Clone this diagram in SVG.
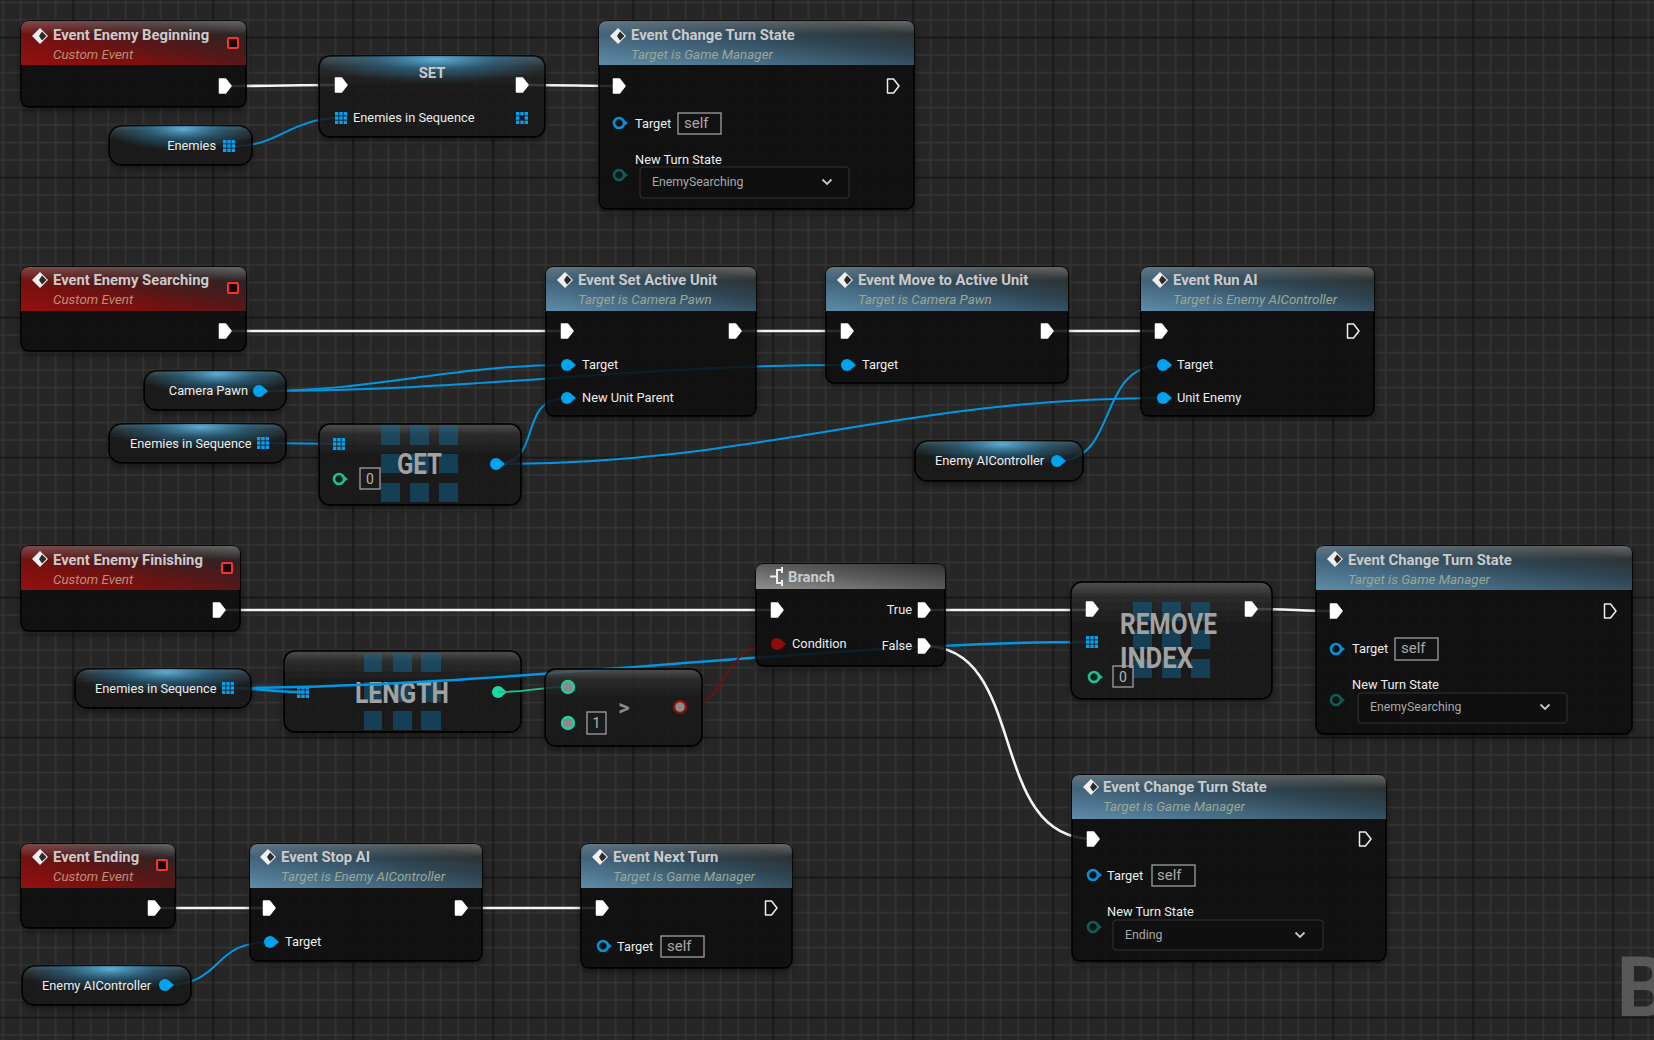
<svg xmlns="http://www.w3.org/2000/svg" width="1654" height="1040" viewBox="0 0 1654 1040">
<style>
text{font-family:Roboto,"Liberation Sans",sans-serif}
.t{font-weight:700;font-size:14.8px;fill:#cbcbcb}
.s{font-style:italic;font-size:13.4px}
.sr{fill:#b89078}.sb{fill:#98a898}
.l{font-size:12.8px;fill:#ececec}
.e{font-size:12.3px;fill:#a8a8a8}
.self{font-size:15px;fill:#a8a8a8}
.n{font-size:14px;fill:#b5b5b5;text-anchor:middle}
.big{font-weight:700;font-size:29px;fill:#a2a2a2}
.body{fill:#0b100d;fill-opacity:.8;stroke:#000;stroke-width:1.5;filter:url(#sh)}
.comp{fill:url(#cg);fill-opacity:.76;stroke:#000;stroke-width:1.5;filter:url(#sh)}
.glow{fill:url(#bg)}
.hr{fill:url(#hred)}.hb{fill:url(#hblue)}.hg{fill:url(#hgrey)}
.rim{fill:url(#rimg)}
.box{fill:none;stroke:#a0a0a0;stroke-width:1.3}
.drop{fill:#0f0f0f;stroke:#333;stroke-width:1}
.chev{fill:none;stroke:#c8c8c8;stroke-width:1.8}
.tile{fill:#0f6c9e;fill-opacity:.45}
.w{fill:none;stroke:#f4f4f4;stroke-width:2.6}
.b{fill:none;stroke:#0098e4;stroke-width:2}
</style>
<defs>
<pattern id="grid" patternUnits="userSpaceOnUse" x="64.45" y="28.75" width="140" height="140">
<rect width="140" height="140" fill="#262626"/>
<path d="M26.25 0V140M43.75 0V140M61.25 0V140M78.75 0V140M96.25 0V140M113.75 0V140M131.25 0V140M0 26.25H140M0 43.75H140M0 61.25H140M0 78.75H140M0 96.25H140M0 113.75H140M0 131.25H140" stroke="#353535" stroke-width="1.5" fill="none"/>
<path d="M8.75 0V140M0 8.75H140" stroke="#141414" stroke-width="1.5" fill="none"/>
</pattern>
<filter id="sh" x="-10%" y="-10%" width="120%" height="130%"><feDropShadow dx="0" dy="3" stdDeviation="3" flood-color="#000" flood-opacity=".5"/></filter>
<linearGradient id="hred" x1="0" y1="1" x2="1" y2="0"><stop offset="0" stop-color="#951010"/><stop offset=".3" stop-color="#7a1010"/><stop offset=".6" stop-color="#4c1a1a"/><stop offset=".82" stop-color="#2d2424"/><stop offset="1" stop-color="#3a3a3a"/></linearGradient>
<linearGradient id="hblue" x1="0" y1="1" x2="1" y2="0"><stop offset="0" stop-color="#5f8ca8"/><stop offset=".3" stop-color="#466a82"/><stop offset=".6" stop-color="#2f4654"/><stop offset=".85" stop-color="#2c3234"/><stop offset="1" stop-color="#3c3f40"/></linearGradient>
<linearGradient id="hgrey" x1="0" y1="1" x2="1" y2="0"><stop offset="0" stop-color="#909090"/><stop offset=".5" stop-color="#5c5c5c"/><stop offset="1" stop-color="#333"/></linearGradient>
<linearGradient id="rimg" x1="0" y1="0" x2="0" y2="1"><stop offset="0" stop-color="#fff" stop-opacity=".22"/><stop offset="1" stop-color="#fff" stop-opacity="0"/></linearGradient>
<linearGradient id="cg" x1="0" y1="0" x2="0" y2="1"><stop offset="0" stop-color="#5a5a5a"/><stop offset=".14" stop-color="#2c2c2c"/><stop offset=".35" stop-color="#1c1d1d"/><stop offset="1" stop-color="#181a1a"/></linearGradient>
<radialGradient id="bg" cx=".52" cy=".08" r=".55"><stop offset="0" stop-color="#62bbe6" stop-opacity=".9"/><stop offset=".5" stop-color="#2b7ba5" stop-opacity=".5"/><stop offset="1" stop-color="#2b7ba5" stop-opacity="0"/></radialGradient>
<g id="ex"><path d="M-5.500-7H0.500L6 0 .5 7H-5.500Z" fill="#fff" stroke="#fff" stroke-width="1.5" stroke-linejoin="round"/></g>
<g id="exo"><path d="M-5.500-7H0.500L6 0 .5 7H-5.500Z" fill="#111" stroke="#eee" stroke-width="1.5" stroke-linejoin="round"/></g>
<g id="ob"><circle r="6" fill="#00a3f0"/><path d="M5-3.500L9 0 5 3.500Z" fill="#00a3f0"/></g>
<g id="oh"><path d="M5-3L9 0 5 3Z" fill="#0a8fd4"/><circle r="5" fill="#0a1418" stroke="#0a8fd4" stroke-width="2.600"/></g>
<g id="th"><path d="M5-3L9 0 5 3Z" fill="#0d5c5a"/><circle r="5" fill="#0c1414" stroke="#0d5c5a" stroke-width="2.600"/></g>
<g id="gh"><path d="M5-3L9 0 5 3Z" fill="#1fbf90"/><circle r="5" fill="#14201c" stroke="#1fbf90" stroke-width="2.600"/></g>
<g id="gp"><circle r="6" fill="#8a8a8a" stroke="#1fd0a0" stroke-width="2.400"/></g>
<g id="rp"><circle r="6" fill="#8a8a8a" stroke="#8a0f0f" stroke-width="2.400"/></g>
<g id="rf"><circle r="6" fill="#8f0c0c"/><path d="M5-3.500L9 0 5 3.500Z" fill="#8f0c0c"/></g>
<g id="ar" fill="#0aa0f0"><rect x="-6" y="-6" width="3.400" height="3.400"/><rect x="-1.700" y="-6" width="3.400" height="3.400"/><rect x="2.600" y="-6" width="3.400" height="3.400"/><rect x="-6" y="-1.700" width="3.400" height="3.400"/><rect x="-1.700" y="-1.700" width="3.400" height="3.400"/><rect x="2.600" y="-1.700" width="3.400" height="3.400"/><rect x="-6" y="2.600" width="3.400" height="3.400"/><rect x="-1.700" y="2.600" width="3.400" height="3.400"/><rect x="2.600" y="2.600" width="3.400" height="3.400"/></g>
<g id="arh" fill="#0aa0f0"><rect x="-6" y="-6" width="3.400" height="3.400"/><rect x="-1.700" y="-6" width="3.400" height="3.400"/><rect x="2.600" y="-6" width="3.400" height="3.400"/><rect x="-6" y="-1.700" width="3.400" height="3.400"/><rect x="2.600" y="-1.700" width="3.400" height="3.400"/><rect x="-6" y="2.600" width="3.400" height="3.400"/><rect x="-1.700" y="2.600" width="3.400" height="3.400"/><rect x="2.600" y="2.600" width="3.400" height="3.400"/></g>
<g id="ev"><path d="M0-8L8 0 0 8-8 0Z" fill="#f0f0f0"/><path d="M2-4.500L6.500 0 2 4.500-1 0Z" fill="#2a2a2a"/></g>
<g id="sq"><rect x="-5" y="-5" width="10" height="10" fill="#180606" stroke="#ff3030" stroke-width="2" rx="1"/></g>
<g id="chv"><path d="M-4.500-2.500L0 2 4.500-2.500" class="chev"/></g>
</defs>

<rect id="background" width="1654" height="1040" fill="url(#grid)"/>

<g id="node-length" transform="translate(284,651)">
<rect class="comp" width="237" height="81" rx="11"/>
<path class="tile" d="M80 2h18v19h-18zM109 2h19v19h-19zM137 2h20v19h-20zM80 31h18v20h-18zM109 31h19v20h-19zM137 31h20v20h-20zM80 60h18v19h-18zM109 60h19v19h-19zM137 60h20v19h-20z"/>
<text class="big" x="71" y="52" textLength="94" lengthAdjust="spacingAndGlyphs">LENGTH</text>
<use href="#ar" x="19" y="41"/>
<circle cx="214" cy="41" r="6" fill="#1fd8a8"/><path d="M219 37.500L223 41 219 44.500Z" fill="#1fd8a8"/>
</g>

<g id="connectors">
<path class="w" d="M231 86C270 86 300 85 337 85"/>
<path class="w" d="M528 85C560 85 590 86 619 86"/>
<path class="b" d="M235 146C280 146 290 118 341 118"/>
<path class="w" d="M231 331H567"/>
<path class="w" d="M741 331H847"/>
<path class="w" d="M1053 331H1161"/>
<path class="b" d="M259 391C380 391 450 365 567 365"/>
<path class="b" d="M259 391C480 391 630 365 847 365"/>
<path class="b" d="M263 443C300 443 305 444 339 444"/>
<path class="b" d="M496 464C545 464 515 398 567 398"/>
<path class="b" d="M496 464C760 464 900 398 1163 398"/>
<path class="b" d="M1057 461C1120 461 1095 365 1163 365"/>
<path class="w" d="M225 610H777"/>
<path class="b" style="stroke-width:2.500" d="M228 688C260 688 270 692 303 692"/>
<path class="b" style="stroke-width:2.500" d="M228 688C500 688 820 642 1092 642"/>
<path d="M498 692C530 692 535 687 568 687" fill="none" stroke="#1fc090" stroke-width="1.800"/>
<path d="M680 707C735 707 715 644 777 644" fill="none" stroke="#7a0c0c" stroke-width="1.800"/>
<path class="w" d="M924 610H1092"/>
<path class="w" d="M1251 609C1290 609 1300 611 1336 611"/>
<path class="w" d="M924 646C1030 646 985 839 1093 839"/>
<path class="w" d="M154 908H269"/>
<path class="w" d="M461 908H602"/>
<path class="b" d="M165 985C225 985 210 942 270 942"/>
</g>

<g id="node-event-enemy-beginning" transform="translate(21,21)">
<rect class="body" width="225" height="86" rx="8"/>
<path class="hr" d="M0 44V8Q0 0 8 0H217Q225 0 225 8V44Z"/>
<rect class="rim" width="225" height="14" rx="8"/>
<use href="#ev" x="19" y="15"/>
<text class="t" x="32" y="19">Event Enemy Beginning</text>
<text class="s sr" x="32" y="38">Custom Event</text>
<use href="#sq" x="212" y="22"/>
<use href="#ex" x="204" y="65"/>
</g>

<g id="node-set" transform="translate(319,56)">
<rect class="comp" width="226" height="81" rx="11"/>
<rect class="glow" width="226" height="42" rx="11"/>
<text class="t" x="113" y="22" text-anchor="middle">SET</text>
<use href="#ex" x="22" y="29"/>
<use href="#ex" x="203" y="29"/>
<use href="#ar" x="22" y="62"/>
<text class="l" x="34" y="66">Enemies in Sequence</text>
<use href="#arh" x="203" y="62"/>
</g>

<g id="node-enemies" transform="translate(109,126)">
<rect class="comp" width="143" height="39" rx="13"/>
<rect class="glow" width="143" height="39" rx="13"/>
<text class="l" x="107" y="24" text-anchor="end">Enemies</text>
<use href="#ar" x="120" y="20"/>
</g>

<g id="node-change-turn-state-1" transform="translate(599,21)">
<rect class="body" width="315" height="188" rx="8"/>
<path class="hb" d="M0 44V8Q0 0 8 0H307Q315 0 315 8V44Z"/>
<rect class="rim" width="315" height="14" rx="8"/>
<use href="#ev" x="19" y="15"/>
<text class="t" x="32" y="19">Event Change Turn State</text>
<text class="s sb" x="32" y="38">Target is Game Manager</text>
<use href="#ex" x="20" y="65"/>
<use href="#exo" x="294" y="65"/>
<use href="#oh" x="20" y="102"/>
<text class="l" x="36" y="107">Target</text>
<rect class="box" x="79" y="92" width="43" height="21"/>
<text class="self" x="85" y="107">self</text>
<text class="l" x="36" y="143">New Turn State</text>
<use href="#th" x="20" y="154"/>
<rect class="drop" x="41" y="146" width="209" height="31" rx="3"/>
<text class="e" x="53" y="165">EnemySearching</text>
<use href="#chv" x="228" y="161"/>
</g>

<g id="node-event-enemy-searching" transform="translate(21,267)">
<rect class="body" width="225" height="84" rx="8"/>
<path class="hr" d="M0 44V8Q0 0 8 0H217Q225 0 225 8V44Z"/>
<rect class="rim" width="225" height="14" rx="8"/>
<use href="#ev" x="19" y="13"/>
<text class="t" x="32" y="18">Event Enemy Searching</text>
<text class="s sr" x="32" y="37">Custom Event</text>
<use href="#sq" x="212" y="21"/>
<use href="#ex" x="204" y="64"/>
</g>

<g id="node-set-active-unit" transform="translate(546,267)">
<rect class="body" width="210" height="149" rx="8"/>
<path class="hb" d="M0 44V8Q0 0 8 0H202Q210 0 210 8V44Z"/>
<rect class="rim" width="210" height="14" rx="8"/>
<use href="#ev" x="19" y="13"/>
<text class="t" x="32" y="18">Event Set Active Unit</text>
<text class="s sb" x="32" y="37">Target is Camera Pawn</text>
<use href="#ex" x="21" y="64"/>
<use href="#ex" x="189" y="64"/>
<use href="#ob" x="21" y="98"/>
<text class="l" x="36" y="102">Target</text>
<use href="#ob" x="21" y="131"/>
<text class="l" x="36" y="135">New Unit Parent</text>
</g>

<g id="node-move-to-active-unit" transform="translate(826,267)">
<rect class="body" width="242" height="116" rx="8"/>
<path class="hb" d="M0 44V8Q0 0 8 0H234Q242 0 242 8V44Z"/>
<rect class="rim" width="242" height="14" rx="8"/>
<use href="#ev" x="19" y="13"/>
<text class="t" x="32" y="18">Event Move to Active Unit</text>
<text class="s sb" x="32" y="37">Target is Camera Pawn</text>
<use href="#ex" x="21" y="64"/>
<use href="#ex" x="221" y="64"/>
<use href="#ob" x="21" y="98"/>
<text class="l" x="36" y="102">Target</text>
</g>

<g id="node-run-ai" transform="translate(1141,267)">
<rect class="body" width="233" height="149" rx="8"/>
<path class="hb" d="M0 44V8Q0 0 8 0H225Q233 0 233 8V44Z"/>
<rect class="rim" width="233" height="14" rx="8"/>
<use href="#ev" x="19" y="13"/>
<text class="t" x="32" y="18">Event Run AI</text>
<text class="s sb" x="32" y="37">Target is Enemy AIController</text>
<use href="#ex" x="20" y="64"/>
<use href="#exo" x="212" y="64"/>
<use href="#ob" x="22" y="98"/>
<text class="l" x="36" y="102">Target</text>
<use href="#ob" x="22" y="131"/>
<text class="l" x="36" y="135">Unit Enemy</text>
</g>

<g id="node-camera-pawn" transform="translate(144,371)">
<rect class="comp" width="142" height="39" rx="13"/>
<rect class="glow" width="142" height="39" rx="13"/>
<text class="l" x="104" y="24" text-anchor="end">Camera Pawn</text>
<use href="#ob" x="115" y="20"/>
</g>

<g id="node-enemies-in-sequence-1" transform="translate(109,424)">
<rect class="comp" width="177" height="39" rx="13"/>
<rect class="glow" width="177" height="39" rx="13"/>
<text class="l" x="21" y="24">Enemies in Sequence</text>
<use href="#ar" x="154" y="19"/>
</g>

<g id="node-get" transform="translate(319,424)">
<rect class="comp" width="202" height="81" rx="11"/>
<path class="tile" d="M62 1h19v20h-19zM91 1h19v20h-19zM120 1h19v20h-19zM62 30h19v19h-19zM91 30h19v19h-19zM120 30h19v19h-19zM62 59h19v19h-19zM91 59h19v19h-19zM120 59h19v19h-19z"/>
<text class="big" x="78" y="49.500" textLength="45" lengthAdjust="spacingAndGlyphs">GET</text>
<use href="#ar" x="20" y="20"/>
<use href="#gh" x="20" y="55"/>
<rect class="box" x="41" y="44" width="20" height="21"/>
<text class="n" x="51" y="60">0</text>
<use href="#ob" x="177" y="40"/>
</g>

<g id="node-enemy-aicontroller-1" transform="translate(915,441)">
<rect class="comp" width="168" height="40" rx="13"/>
<rect class="glow" width="168" height="40" rx="13"/>
<text class="l" x="20" y="24">Enemy AIController</text>
<use href="#ob" x="142" y="20"/>
</g>

<g id="node-event-enemy-finishing" transform="translate(21,546)">
<rect class="body" width="219" height="85" rx="8"/>
<path class="hr" d="M0 44V8Q0 0 8 0H211Q219 0 219 8V44Z"/>
<rect class="rim" width="219" height="14" rx="8"/>
<use href="#ev" x="19" y="13"/>
<text class="t" x="32" y="19">Event Enemy Finishing</text>
<text class="s sr" x="32" y="38">Custom Event</text>
<use href="#sq" x="206" y="22"/>
<use href="#ex" x="198" y="64"/>
</g>

<g id="node-branch" transform="translate(756,564)">
<rect class="body" width="189" height="102" rx="8"/>
<path class="hg" d="M0 25V8Q0 0 8 0H181Q189 0 189 8V25Z"/>
<path d="M26 6H21V19H26M14 12.500H21M26 3V9M26 16V22" fill="none" stroke="#eee" stroke-width="2"/>
<text class="t" x="32" y="18">Branch</text>
<use href="#ex" x="21" y="46"/>
<text class="l" x="156" y="50" text-anchor="end">True</text>
<use href="#ex" x="168" y="46"/>
<use href="#rf" x="21" y="80"/>
<text class="l" x="36" y="84">Condition</text>
<text class="l" x="156" y="86" text-anchor="end">False</text>
<use href="#ex" x="168" y="82"/>
</g>

<g id="node-remove-index" transform="translate(1071,582)">
<rect class="comp" width="201" height="117" rx="11"/>
<path class="tile" d="M62 20h19v19h-19zM91 20h19v19h-19zM120 20h19v19h-19zM62 48h19v19h-19zM91 48h19v19h-19zM120 48h19v19h-19zM62 77h19v19h-19zM91 77h19v19h-19zM120 77h19v19h-19z"/>
<text class="big" x="49" y="52" textLength="97" lengthAdjust="spacingAndGlyphs">REMOVE</text>
<text class="big" x="49" y="86" textLength="73" lengthAdjust="spacingAndGlyphs">INDEX</text>
<use href="#ex" x="21" y="27"/>
<use href="#ex" x="180" y="27"/>
<use href="#ar" x="21" y="60"/>
<use href="#gh" x="23" y="95"/>
<rect class="box" x="42" y="84" width="20" height="21"/>
<text class="n" x="52" y="100">0</text>
</g>

<g id="node-change-turn-state-2" transform="translate(1316,546)">
<rect class="body" width="316" height="188" rx="8"/>
<path class="hb" d="M0 44V8Q0 0 8 0H308Q316 0 316 8V44Z"/>
<rect class="rim" width="316" height="14" rx="8"/>
<use href="#ev" x="19" y="13"/>
<text class="t" x="32" y="19">Event Change Turn State</text>
<text class="s sb" x="32" y="38">Target is Game Manager</text>
<use href="#ex" x="20" y="65"/>
<use href="#exo" x="294" y="65"/>
<use href="#oh" x="20" y="103"/>
<text class="l" x="36" y="107">Target</text>
<rect class="box" x="79" y="92" width="43" height="22"/>
<text class="self" x="85" y="107">self</text>
<text class="l" x="36" y="143">New Turn State</text>
<use href="#th" x="20" y="154"/>
<rect class="drop" x="42" y="147" width="209" height="30" rx="3"/>
<text class="e" x="54" y="165">EnemySearching</text>
<use href="#chv" x="229" y="161"/>
</g>

<g id="node-enemies-in-sequence-2" transform="translate(75,669)">
<rect class="comp" width="176" height="39" rx="13"/>
<rect class="glow" width="176" height="39" rx="13"/>
<text class="l" x="20" y="24">Enemies in Sequence</text>
<use href="#ar" x="153" y="19"/>
</g>

<g id="node-greater-than" transform="translate(545,669)">
<rect class="comp" width="157" height="77" rx="11"/>
<use href="#gp" x="23" y="18"/>
<use href="#gp" x="23" y="54"/>
<rect class="box" x="42" y="43" width="19" height="22"/>
<text class="n" x="51.500" y="59">1</text>
<text x="79" y="46" text-anchor="middle" font-size="22" font-weight="700" fill="#8a8a8a">&gt;</text>
<use href="#rp" x="135" y="38"/>
</g>

<g id="node-change-turn-state-3" transform="translate(1072,775)">
<rect class="body" width="314" height="186" rx="8"/>
<path class="hb" d="M0 44V8Q0 0 8 0H306Q314 0 314 8V44Z"/>
<rect class="rim" width="314" height="14" rx="8"/>
<use href="#ev" x="19" y="12"/>
<text class="t" x="31" y="17">Event Change Turn State</text>
<text class="s sb" x="31" y="36">Target is Game Manager</text>
<use href="#ex" x="21" y="64"/>
<use href="#exo" x="293" y="64"/>
<use href="#oh" x="21" y="100"/>
<text class="l" x="35" y="105">Target</text>
<rect class="box" x="80" y="90" width="43" height="21"/>
<text class="self" x="85" y="105">self</text>
<text class="l" x="35" y="141">New Turn State</text>
<use href="#th" x="21" y="152"/>
<rect class="drop" x="41" y="145" width="210" height="30" rx="3"/>
<text class="e" x="53" y="164">Ending</text>
<use href="#chv" x="228" y="160"/>
</g>

<g id="node-event-ending" transform="translate(21,844)">
<rect class="body" width="154" height="84" rx="8"/>
<path class="hr" d="M0 44V8Q0 0 8 0H146Q154 0 154 8V44Z"/>
<rect class="rim" width="154" height="14" rx="8"/>
<use href="#ev" x="19" y="13"/>
<text class="t" x="32" y="18">Event Ending</text>
<text class="s sr" x="32" y="37">Custom Event</text>
<use href="#sq" x="141" y="21"/>
<use href="#ex" x="133" y="64"/>
</g>

<g id="node-stop-ai" transform="translate(250,844)">
<rect class="body" width="232" height="117" rx="8"/>
<path class="hb" d="M0 44V8Q0 0 8 0H224Q232 0 232 8V44Z"/>
<rect class="rim" width="232" height="14" rx="8"/>
<use href="#ev" x="18" y="13"/>
<text class="t" x="31" y="18">Event Stop AI</text>
<text class="s sb" x="31" y="37">Target is Enemy AIController</text>
<use href="#ex" x="19" y="64"/>
<use href="#ex" x="211" y="64"/>
<use href="#ob" x="20" y="98"/>
<text class="l" x="35" y="102">Target</text>
</g>

<g id="node-next-turn" transform="translate(581,844)">
<rect class="body" width="211" height="124" rx="8"/>
<path class="hb" d="M0 44V8Q0 0 8 0H203Q211 0 211 8V44Z"/>
<rect class="rim" width="211" height="14" rx="8"/>
<use href="#ev" x="19" y="13"/>
<text class="t" x="32" y="18">Event Next Turn</text>
<text class="s sb" x="32" y="37">Target is Game Manager</text>
<use href="#ex" x="21" y="64"/>
<use href="#exo" x="190" y="64"/>
<use href="#oh" x="22" y="102"/>
<text class="l" x="36" y="106.500">Target</text>
<rect class="box" x="80" y="92" width="43" height="21"/>
<text class="self" x="86" y="107">self</text>
</g>

<g id="node-enemy-aicontroller-2" transform="translate(22,966)">
<rect class="comp" width="169" height="39" rx="13"/>
<rect class="glow" width="169" height="39" rx="13"/>
<text class="l" x="20" y="24">Enemy AIController</text>
<use href="#ob" x="143" y="19"/>
</g>

<text x="1616.500" y="1016" font-size="83" font-weight="700" fill="#585858">B</text>
</svg>
